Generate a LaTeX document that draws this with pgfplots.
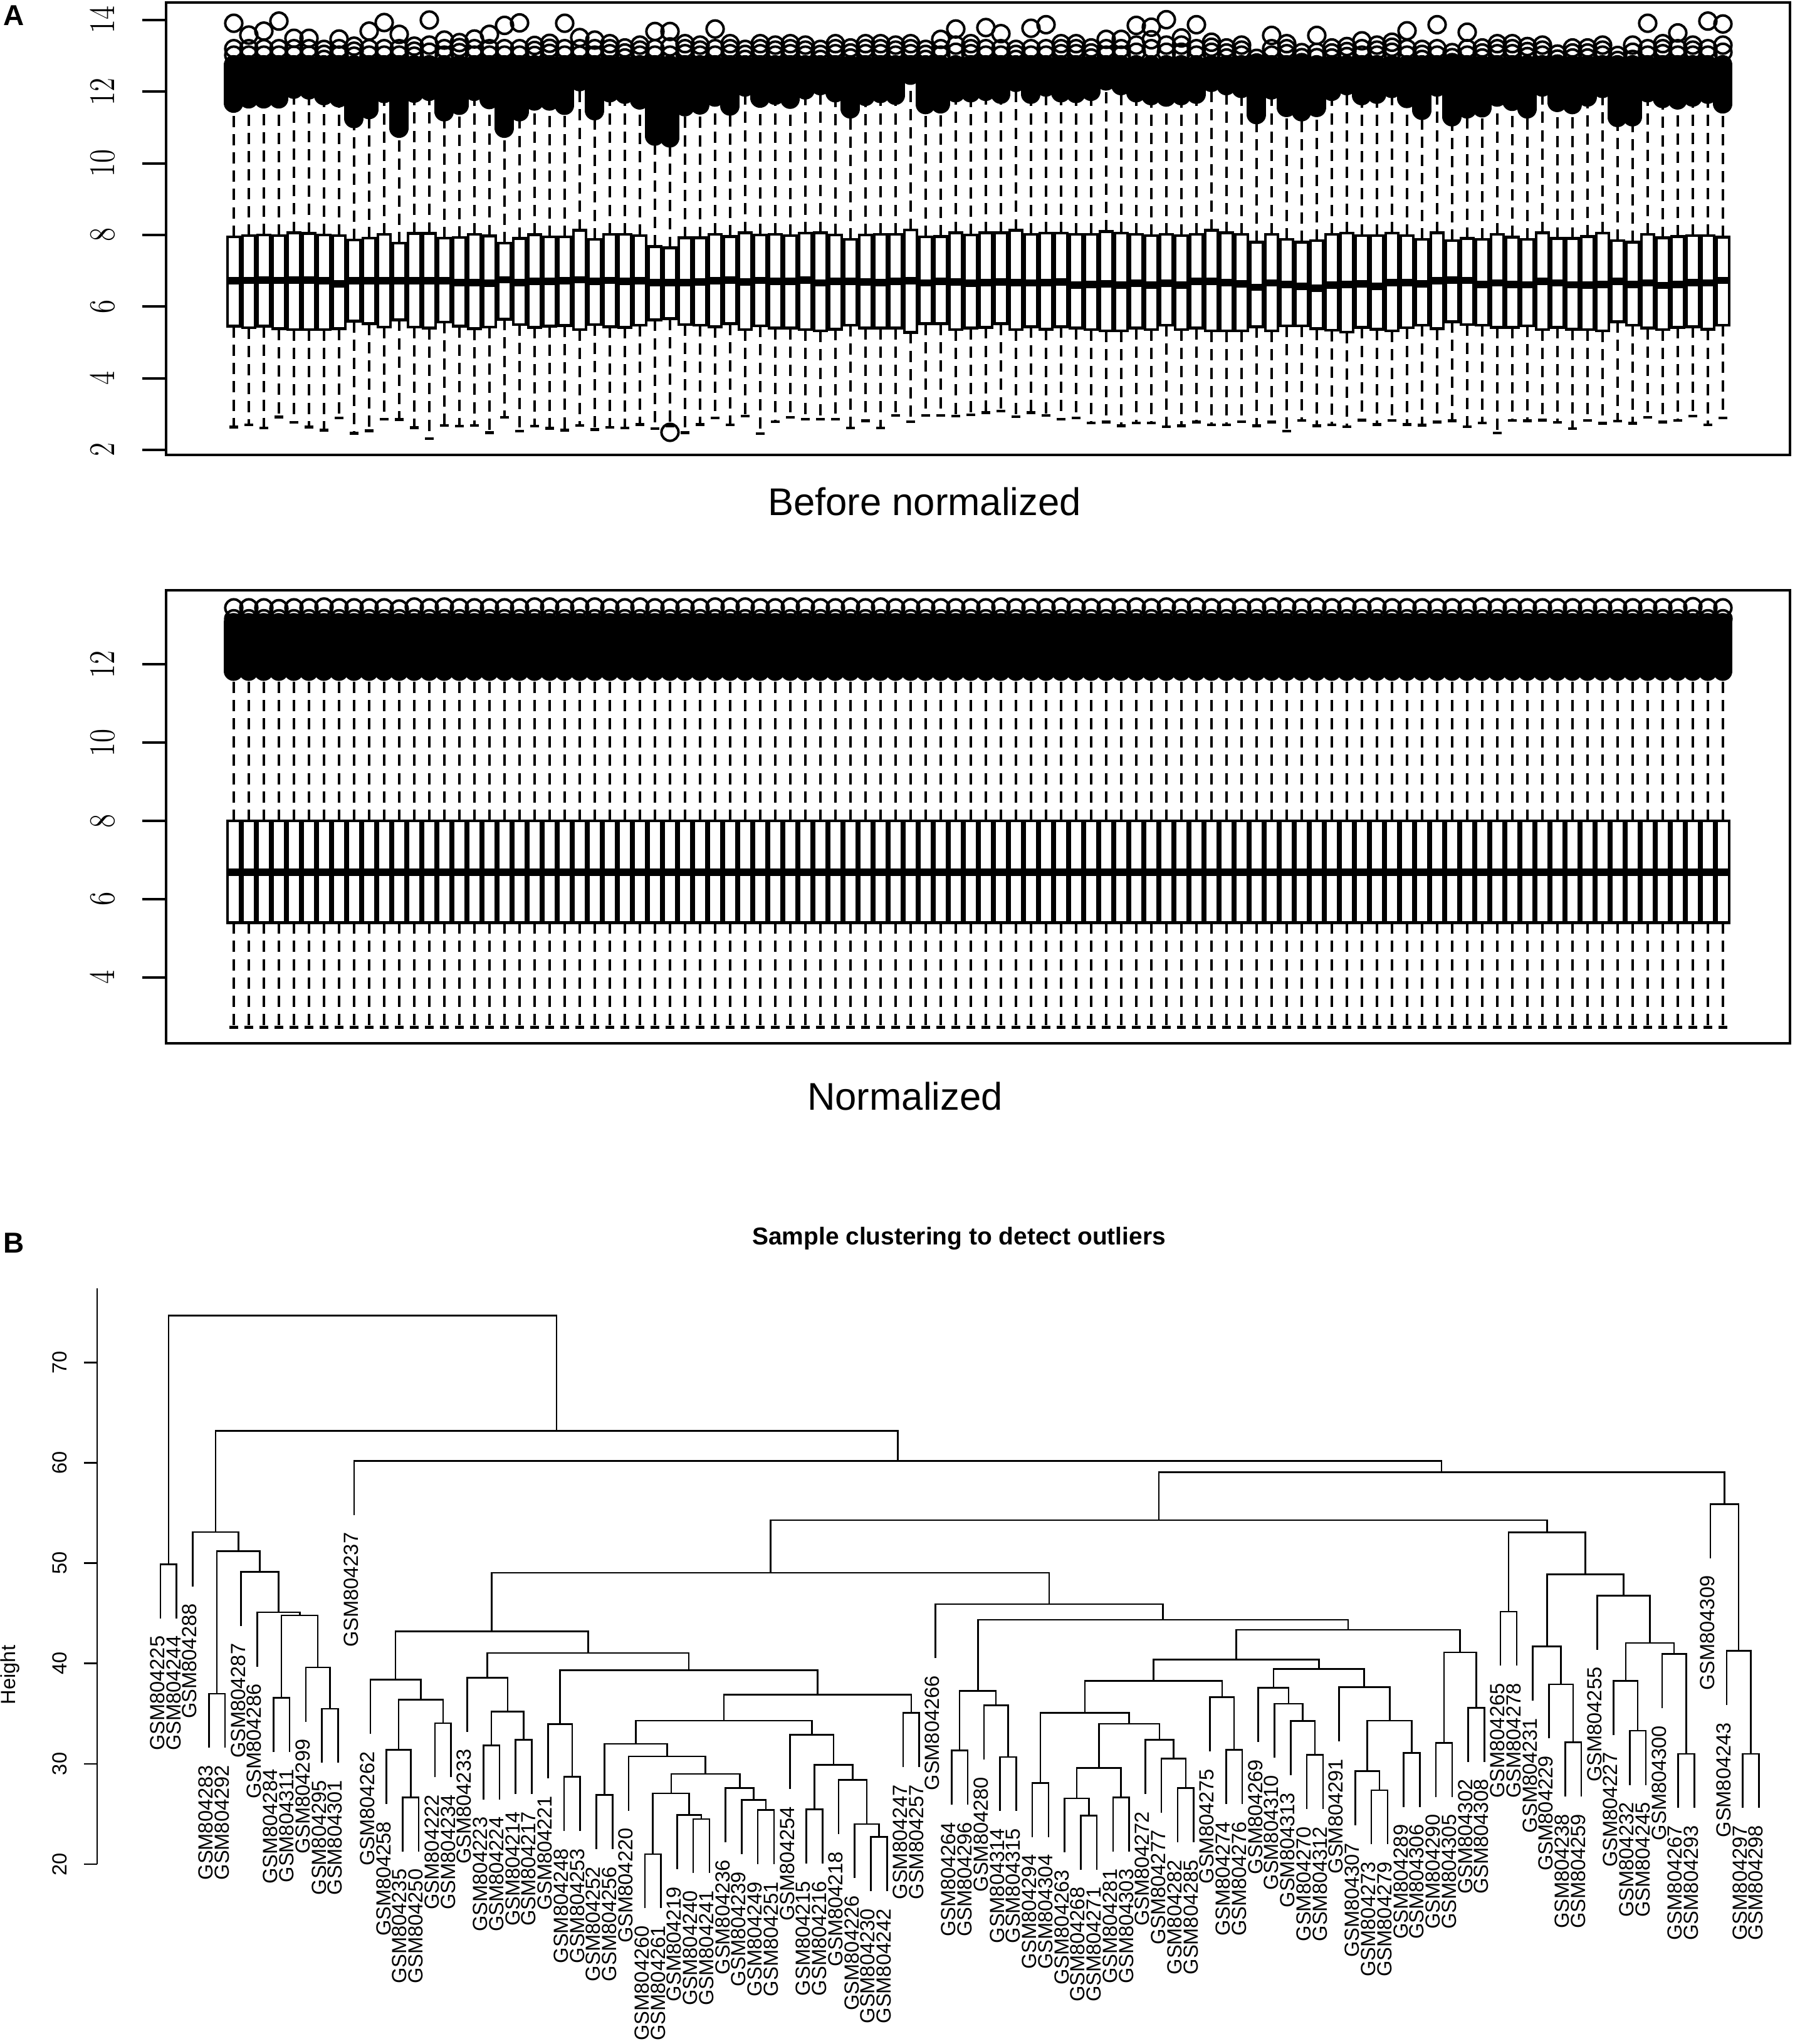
\documentclass[border=0pt]{standalone}
\usepackage{fontspec}
\usepackage{pgfplots}
\usepackage{pgfplotstable}
\pgfplotsset{compat=1.18}
\usepgfplotslibrary{statistics}
\newfontfamily\arial{Liberation Sans}

% i, lower whisker, q1, median, q3, lowest outlier, three highest outliers
\pgfplotstableread{
i lw q1 med q3 mb o1 o2 o3
1 2.64 5.45 6.72 7.95 11.68 13.91 13.2 13.02
2 2.70 5.41 6.73 7.98 11.80 13.58 13.2 13.02
3 2.61 5.45 6.74 8.00 11.80 13.69 13.2 13.02
4 2.92 5.38 6.73 7.98 11.80 13.97 13.2 13.02
5 2.77 5.36 6.74 8.06 12.07 13.49 13.2 13.02
6 2.64 5.36 6.74 8.04 12.05 13.49 13.2 13.02
7 2.55 5.36 6.72 8.00 11.89 13.18 13.04 12.9
8 2.89 5.38 6.64 7.98 11.83 13.47 13.2 13.02
9 2.46 5.59 6.72 7.86 11.25 13.27 13.13 12.99
10 2.53 5.52 6.72 7.91 11.50 13.69 13.2 13.02
11 2.86 5.43 6.72 8.02 11.95 13.93 13.2 13.02
12 2.85 5.63 6.72 7.77 10.98 13.60 13.2 13.02
13 2.62 5.43 6.72 8.04 11.96 13.27 13.13 12.99
14 2.31 5.40 6.72 8.04 12.01 14.00 13.3 13.1
15 2.68 5.57 6.72 7.91 11.44 13.44 13.2 13.02
16 2.66 5.45 6.67 7.93 11.62 13.37 13.23 13.09
17 2.68 5.38 6.67 8.02 12.01 13.47 13.2 13.02
18 2.48 5.43 6.65 7.97 11.78 13.60 13.2 13.02
19 2.91 5.65 6.75 7.77 10.98 13.85 13.2 13.02
20 2.52 5.50 6.67 7.90 11.44 13.92 13.2 13.02
21 2.66 5.42 6.70 8.01 11.74 13.29 13.15 13.01
22 2.60 5.45 6.70 7.95 11.74 13.35 13.21 13.07
23 2.55 5.47 6.72 7.95 11.62 13.91 13.2 13.02
24 2.68 5.36 6.75 8.13 12.28 13.51 13.2 13.02
25 2.57 5.50 6.71 7.88 11.47 13.44 13.2 13.02
26 2.63 5.44 6.73 8.02 11.97 13.34 13.2 13.06
27 2.61 5.42 6.71 8.02 11.93 13.22 13.08 12.94
28 2.71 5.48 6.72 7.98 11.77 13.30 13.16 13.02
29 2.59 5.63 6.67 7.68 10.76 13.68 13.2 13.02
30 2.67 5.66 6.67 7.64 10.71 13.68 13.25 13.02
31 2.48 5.50 6.67 7.92 11.58 13.34 13.2 13.06
32 2.71 5.48 6.69 7.92 11.63 13.30 13.16 13.02
33 2.89 5.44 6.72 8.02 11.85 13.75 13.2 13.02
34 2.70 5.52 6.74 7.96 11.60 13.34 13.2 13.06
35 2.94 5.36 6.69 8.06 12.13 13.18 13.04 12.9
36 2.45 5.46 6.73 8.00 11.82 13.34 13.2 13.06
37 2.79 5.40 6.70 8.02 11.90 13.30 13.16 13.02
38 2.91 5.40 6.70 7.98 11.79 13.34 13.2 13.06
39 2.86 5.36 6.74 8.05 12.05 13.30 13.16 13.02
40 2.86 5.32 6.66 8.06 12.17 13.18 13.04 12.9
41 2.86 5.37 6.71 8.00 11.97 13.34 13.2 13.06
42 2.61 5.48 6.71 7.88 11.52 13.22 13.08 12.94
43 2.81 5.40 6.69 8.00 11.87 13.34 13.2 13.06
44 2.61 5.40 6.67 8.02 11.95 13.34 13.2 13.06
45 2.96 5.40 6.71 8.02 11.90 13.30 13.16 13.02
46 2.79 5.28 6.72 8.14 12.46 13.34 13.2 13.06
47 2.96 5.52 6.66 7.95 11.64 13.18 13.04 12.9
48 2.96 5.52 6.71 7.96 11.66 13.46 13.2 13.02
49 2.94 5.36 6.69 8.06 11.97 13.75 13.3 13.1
50 2.98 5.40 6.65 8.00 11.97 13.34 13.2 13.06
51 3.04 5.42 6.67 8.06 12.01 13.79 13.2 13.02
52 3.08 5.52 6.69 8.06 11.93 13.62 13.2 13.02
53 2.93 5.36 6.67 8.13 12.26 13.18 13.04 12.9
54 3.04 5.44 6.66 8.02 11.93 13.77 13.2 13.02
55 2.96 5.37 6.67 8.05 12.13 13.87 13.2 13.02
56 2.86 5.44 6.69 8.05 11.97 13.34 13.2 13.06
57 2.89 5.40 6.60 8.02 11.95 13.34 13.2 13.06
58 2.75 5.36 6.62 8.02 12.01 13.22 13.08 12.94
59 2.78 5.32 6.64 8.10 12.30 13.46 13.2 13.02
60 2.67 5.32 6.60 8.05 12.17 13.46 13.2 13.02
61 2.75 5.40 6.65 8.02 11.97 13.85 13.3 13.1
62 2.75 5.36 6.60 7.98 11.89 13.80 13.45 13.2
63 2.65 5.48 6.65 8.02 11.85 14.01 13.3 13.1
64 2.67 5.36 6.60 7.98 11.89 13.50 13.3 13.1
65 2.78 5.40 6.71 8.02 11.93 13.87 13.2 13.02
66 2.70 5.32 6.71 8.13 12.26 13.38 13.24 13.1
67 2.70 5.32 6.67 8.06 12.17 13.22 13.08 12.94
68 2.79 5.32 6.64 8.02 12.09 13.30 13.16 13.02
69 2.67 5.44 6.54 7.80 11.36 12.93 12.8 12.7
70 2.78 5.32 6.66 8.02 12.05 13.57 13.2 13.02
71 2.52 5.46 6.62 7.88 11.56 13.34 13.2 13.06
72 2.82 5.46 6.57 7.80 11.44 13.09 12.95 12.81
73 2.67 5.38 6.51 7.84 11.56 13.57 13.1 12.95
74 2.70 5.34 6.60 8.02 12.01 13.22 13.08 12.94
75 2.65 5.29 6.62 8.05 12.17 13.26 13.12 12.98
76 2.83 5.42 6.63 7.98 11.89 13.42 13.2 13.02
77 2.71 5.37 6.57 7.98 11.93 13.30 13.16 13.02
78 2.82 5.32 6.67 8.05 12.09 13.38 13.24 13.1
79 2.71 5.41 6.67 7.98 11.81 13.70 13.2 13.02
80 2.69 5.48 6.63 7.88 11.48 13.18 13.04 12.9
81 2.78 5.38 6.72 8.06 12.13 13.87 13.2 13.02
82 2.81 5.58 6.74 7.84 11.30 13.09 12.95 12.81
83 2.65 5.50 6.73 7.90 11.52 13.66 13.2 13.02
84 2.75 5.48 6.62 7.88 11.55 13.22 13.08 12.94
85 2.47 5.42 6.66 8.02 11.85 13.34 13.2 13.06
86 2.82 5.42 6.62 7.94 11.73 13.34 13.2 13.06
87 2.81 5.46 6.61 7.88 11.52 13.26 13.12 12.98
88 2.83 5.36 6.71 8.06 12.13 13.30 13.16 13.02
89 2.77 5.42 6.66 7.90 11.70 13.05 12.91 12.77
90 2.59 5.37 6.61 7.90 11.64 13.22 13.08 12.94
91 2.82 5.36 6.60 7.96 11.85 13.22 13.08 12.94
92 2.74 5.32 6.62 8.05 12.09 13.30 13.16 13.02
93 2.80 5.58 6.71 7.84 11.28 13.01 12.87 12.73
94 2.74 5.48 6.62 7.80 11.30 13.30 13.1 12.9
95 2.91 5.40 6.66 8.02 11.97 13.91 13.2 13.02
96 2.78 5.36 6.59 7.92 11.81 13.34 13.2 13.06
97 2.82 5.42 6.62 7.96 11.77 13.64 13.2 13.02
98 2.94 5.44 6.67 7.98 11.85 13.30 13.16 13.02
99 2.70 5.37 6.66 7.98 11.93 13.97 13.2 13.02
100 2.89 5.48 6.73 7.94 11.66 13.89 13.3 13.1
}\before

% normalized samples: i, lower whisker, lowest outlier, two highest outliers
\pgfplotstableread{
i lw mb o1 o2
1 2.72 11.83 13.45 13.17
2 2.72 11.83 13.45 13.17
3 2.72 11.83 13.45 13.17
4 2.72 11.83 13.43 13.17
5 2.72 11.83 13.45 13.17
6 2.72 11.83 13.45 13.17
7 2.72 11.83 13.47 13.17
8 2.72 11.83 13.45 13.17
9 2.72 11.83 13.45 13.17
10 2.72 11.83 13.45 13.17
11 2.72 11.83 13.45 13.17
12 2.72 11.83 13.42 13.17
13 2.72 11.83 13.47 13.17
14 2.72 11.83 13.45 13.17
15 2.72 11.83 13.47 13.17
16 2.72 11.83 13.45 13.17
17 2.72 11.83 13.45 13.17
18 2.72 11.83 13.45 13.17
19 2.72 11.83 13.45 13.17
20 2.72 11.83 13.45 13.17
21 2.72 11.83 13.47 13.17
22 2.72 11.83 13.47 13.17
23 2.72 11.83 13.45 13.17
24 2.72 11.83 13.47 13.17
25 2.72 11.83 13.47 13.17
26 2.72 11.83 13.45 13.17
27 2.72 11.83 13.45 13.17
28 2.72 11.83 13.47 13.17
29 2.72 11.83 13.45 13.17
30 2.72 11.83 13.45 13.17
31 2.72 11.83 13.45 13.17
32 2.72 11.83 13.45 13.17
33 2.72 11.83 13.47 13.17
34 2.72 11.83 13.47 13.17
35 2.72 11.83 13.47 13.17
36 2.72 11.83 13.45 13.17
37 2.72 11.83 13.45 13.17
38 2.72 11.83 13.47 13.17
39 2.72 11.83 13.47 13.17
40 2.72 11.83 13.45 13.17
41 2.72 11.83 13.45 13.17
42 2.72 11.83 13.47 13.17
43 2.72 11.83 13.45 13.17
44 2.72 11.83 13.47 13.17
45 2.72 11.83 13.45 13.17
46 2.72 11.83 13.45 13.17
47 2.72 11.83 13.45 13.17
48 2.72 11.83 13.45 13.17
49 2.72 11.83 13.45 13.17
50 2.72 11.83 13.45 13.17
51 2.72 11.83 13.45 13.17
52 2.72 11.83 13.47 13.17
53 2.72 11.83 13.45 13.17
54 2.72 11.83 13.45 13.17
55 2.72 11.83 13.45 13.17
56 2.72 11.83 13.47 13.17
57 2.72 11.83 13.45 13.17
58 2.72 11.83 13.45 13.17
59 2.72 11.83 13.45 13.17
60 2.72 11.83 13.45 13.17
61 2.72 11.83 13.47 13.17
62 2.72 11.83 13.45 13.17
63 2.72 11.83 13.47 13.17
64 2.72 11.83 13.45 13.17
65 2.72 11.83 13.47 13.17
66 2.72 11.83 13.45 13.17
67 2.72 11.83 13.45 13.17
68 2.72 11.83 13.45 13.17
69 2.72 11.83 13.45 13.17
70 2.72 11.83 13.47 13.17
71 2.72 11.83 13.47 13.17
72 2.72 11.83 13.45 13.17
73 2.72 11.83 13.47 13.17
74 2.72 11.83 13.45 13.17
75 2.72 11.83 13.47 13.17
76 2.72 11.83 13.45 13.17
77 2.72 11.83 13.47 13.17
78 2.72 11.83 13.45 13.17
79 2.72 11.83 13.45 13.17
80 2.72 11.83 13.45 13.17
81 2.72 11.83 13.45 13.17
82 2.72 11.83 13.45 13.17
83 2.72 11.83 13.45 13.17
84 2.72 11.83 13.47 13.17
85 2.72 11.83 13.45 13.17
86 2.72 11.83 13.45 13.17
87 2.72 11.83 13.45 13.17
88 2.72 11.83 13.45 13.17
89 2.72 11.83 13.45 13.17
90 2.72 11.83 13.45 13.17
91 2.72 11.83 13.45 13.17
92 2.72 11.83 13.45 13.17
93 2.72 11.83 13.45 13.17
94 2.72 11.83 13.45 13.17
95 2.72 11.83 13.45 13.17
96 2.72 11.83 13.45 13.17
97 2.72 11.83 13.45 13.17
98 2.72 11.83 13.48 13.17
99 2.72 11.83 13.45 13.17
100 2.72 11.83 13.45 13.17
}\normed

% dendrogram leaves: position, end of the branch, sample
\pgfplotstableread{
x y lab
1 44.5 GSM804225
2 44.5 GSM804244
3 47.7 GSM804288
4 31.6 GSM804283
5 31.6 GSM804292
6 43.75 GSM804287
7 39.7 GSM804286
8 31.2 GSM804284
9 31.2 GSM804311
10 34.2 GSM804299
11 30.1 GSM804295
12 30.1 GSM804301
13 54.8 GSM804237
14 33 GSM804262
15 26 GSM804258
16 21.26 GSM804235
17 21.26 GSM804250
18 28.66 GSM804222
19 28.66 GSM804234
20 33.2 GSM804233
21 26.45 GSM804223
22 26.45 GSM804224
23 27 GSM804214
24 27 GSM804217
25 28.56 GSM804221
26 23.3 GSM804248
27 23.3 GSM804253
28 21.5 GSM804252
29 21.5 GSM804256
30 25.34 GSM804220
31 15.6 GSM804260
32 15.6 GSM804261
33 19.5 GSM804219
34 19.1 GSM804240
35 19.1 GSM804241
36 22.17 GSM804236
37 21 GSM804239
38 20 GSM804249
39 20 GSM804251
40 27.5 GSM804254
41 20.06 GSM804215
42 20.06 GSM804216
43 23 GSM804218
44 18.6 GSM804226
45 17.3 GSM804230
46 17.3 GSM804242
47 29.67 GSM804247
48 29.67 GSM804257
49 40.53 GSM804266
50 25.94 GSM804264
51 25.94 GSM804296
52 30.42 GSM804280
53 25.29 GSM804314
54 25.29 GSM804315
55 22.7 GSM804294
56 22.7 GSM804304
57 21.16 GSM804263
58 19.45 GSM804268
59 19.45 GSM804271
60 21.26 GSM804281
61 21.26 GSM804303
62 27 GSM804272
63 25.14 GSM804277
64 22.17 GSM804282
65 22.17 GSM804285
66 31.23 GSM804275
67 26 GSM804274
68 26 GSM804276
69 32.18 GSM804269
70 30.6 GSM804310
71 28.86 GSM804313
72 25.49 GSM804270
73 25.49 GSM804312
74 32.23 GSM804291
75 23.88 GSM804307
76 21.97 GSM804273
77 21.97 GSM804279
78 25.7 GSM804289
79 25.7 GSM804306
80 26.7 GSM804290
81 26.7 GSM804305
82 30.2 GSM804302
83 30.2 GSM804308
84 39.77 GSM804265
85 39.77 GSM804278
86 36.3 GSM804231
87 32.53 GSM804229
88 26.75 GSM804238
89 26.75 GSM804259
90 41.38 GSM804255
91 32.88 GSM804227
92 27.9 GSM804232
93 27.9 GSM804245
94 35.55 GSM804300
95 25.6 GSM804267
96 25.6 GSM804293
97 50.5 GSM804309
98 35.85 GSM804243
99 25.6 GSM804297
100 25.6 GSM804298
}\leaves

\pgfplotsset{
  rpanel/.style={
    scale only axis, width=647.75pt, anchor=south west,
    xmin=-3.5, xmax=104.46, xtick=\empty,
    ytick pos=left, tick align=outside, major tick length=9.5pt,
    axis line style={line width=1pt},
    tick style={line width=1pt,black},
    yticklabel shift=11pt,
    yticklabel style={rotate=90,xscale=.78,anchor=south,inner sep=0pt,font=\fontsize{15.5}{16}\selectfont},
  },
  rbox/.style={
    black, forget plot,
    boxplot/draw direction=y,
    boxplot/box extend=.83, boxplot/whisker extend=0,
    boxplot/every box/.style={line width=1.15pt},
    boxplot/every median/.style={line width=2.9pt},
    boxplot/every whisker/.style={line width=1.1pt,dash pattern=on 4.5pt off 2.8pt},
  },
  rcap/.style={only marks,mark=-,black,mark size=1.7pt,mark options={solid,line width=1.1pt}},
  rmass/.style={
    only marks, mark=none,
    error bars/.cd, y dir=plus, y explicit, error mark=none,
    error bar style={solid,black,line width=7.75pt,line cap=round},
  },
  rout/.style={only marks,mark=o,black,mark size=3.4pt,mark options={solid,line width=1pt}},
}

\begin{document}
\begin{tikzpicture}
\path[use as bounding box] (0,0) rectangle (715.75pt,815.5pt);

\begin{axis}[rpanel, at={(66.25pt,634pt)}, height=180.5pt,
    ymin=1.86, ymax=14.49, ytick={2,4,...,14}]
\pgfplotsinvokeforeach{0,...,99}{
  \pgfplotstablegetelem{#1}{i}\of\before\let\vi\pgfplotsretval
  \pgfplotstablegetelem{#1}{lw}\of\before\let\vlw\pgfplotsretval
  \pgfplotstablegetelem{#1}{q1}\of\before\let\vqa\pgfplotsretval
  \pgfplotstablegetelem{#1}{med}\of\before\let\vmed\pgfplotsretval
  \pgfplotstablegetelem{#1}{q3}\of\before\let\vqc\pgfplotsretval
  \pgfplotstablegetelem{#1}{mb}\of\before\let\vmb\pgfplotsretval
  \edef\tmp{\noexpand\addplot[rbox,boxplot prepared={draw position=\vi,lower whisker=\vlw,lower quartile=\vqa,median=\vmed,upper quartile=\vqc,upper whisker=\vmb}] coordinates {};}\tmp
}
\addplot[rcap] table[x=i,y=lw] {\before};
\addplot[rmass] table[x=i,y=mb,y error expr={12.75-\thisrow{mb}}] {\before};
\addplot[rout] table[x=i,y=o1] {\before};
\addplot[rout] table[x=i,y=o2] {\before};
\addplot[rout] table[x=i,y=o3] {\before};
\addplot[rout] coordinates {(30,2.49)};
\end{axis}

\begin{axis}[rpanel, at={(66.25pt,399.25pt)}, height=180.75pt,
    ymin=2.31, ymax=13.9, ytick={4,6,...,12}]
\pgfplotsinvokeforeach{1,...,100}{
  \addplot[rbox,boxplot prepared={draw position=#1,lower whisker=2.72,lower quartile=5.4,median=6.69,upper quartile=8.0,upper whisker=11.83}] coordinates {};
}
\addplot[rcap] table[x=i,y=lw] {\normed};
\addplot[rmass] table[x=i,y=mb,y error expr={13.07-\thisrow{mb}}] {\normed};
\addplot[rout] table[x=i,y=o1] {\normed};
\addplot[rout] table[x=i,y=o2] {\normed};
\end{axis}

\begin{axis}[scale only axis, at={(38.75pt,71.75pt)}, anchor=south west,
    width=677pt, height=229.75pt, clip=false,
    xmin=-2.92, xmax=102.2, ymin=20, ymax=77.4,
    axis x line=none, axis y line=left,
    axis line style={-,line width=.65pt},
    ytick={20,30,...,70}, tick align=outside, major tick length=5.25pt,
    tick style={line width=.65pt,black},
    yticklabel shift=6.5pt,
    /pgf/number format/assume math mode=true,
    yticklabel style={rotate=90,anchor=south,inner sep=0pt,font=\arial\fontsize{8.15}{9.8}\selectfont},
    unbounded coords=jump]
\addplot[black,line width=.65pt,line join=miter] coordinates {
(1,44.5)(1,49.9)(2,49.9)(2,44.5)(nan,nan)
(4,31.6)(4,37)(5,37)(5,31.6)(nan,nan)
(8,31.2)(8,36.6)(9,36.6)(9,31.2)(nan,nan)
(11,30.1)(11,35.5)(12,35.5)(12,30.1)(nan,nan)
(10,34.2)(10,39.6)(11.5,39.6)(11.5,35.5)(nan,nan)
(8.5,36.6)(8.5,44.8)(10.75,44.8)(10.75,39.6)(nan,nan)
(7,39.7)(7,45.1)(9.63,45.1)(9.63,44.8)(nan,nan)
(6,43.75)(6,49.15)(8.31,49.15)(8.31,45.1)(nan,nan)
(4.5,37)(4.5,51.2)(7.16,51.2)(7.16,49.15)(nan,nan)
(3,47.7)(3,53.1)(5.83,53.1)(5.83,51.2)(nan,nan)
(1.5,49.9)(1.5,74.7)(25.54,74.7)(25.54,63.2)(nan,nan)
(4.41,53.1)(4.41,63.2)(46.68,63.2)(46.68,60.2)(nan,nan)
(13,54.8)(13,60.2)(80.35,60.2)(80.35,59.05)(nan,nan)
(62.83,54.3)(62.83,59.05)(97.88,59.05)(97.88,55.9)(nan,nan)
(99,25.6)(99,31)(100,31)(100,25.6)(nan,nan)
(98,35.85)(98,41.25)(99.5,41.25)(99.5,31)(nan,nan)
(97,50.5)(97,55.9)(98.75,55.9)(98.75,41.25)(nan,nan)
(38.78,49.05)(38.78,54.3)(86.88,54.3)(86.88,53.07)(nan,nan)
(21.52,43.2)(21.52,49.05)(56.05,49.05)(56.05,45.93)(nan,nan)
(15.56,38.4)(15.56,43.2)(27.49,43.2)(27.49,41.05)(nan,nan)
(14,33)(14,38.4)(17.13,38.4)(17.13,36.4)(nan,nan)
(15.75,31.4)(15.75,36.4)(18.5,36.4)(18.5,34.06)(nan,nan)
(15,26)(15,31.4)(16.5,31.4)(16.5,26.66)(nan,nan)
(16,21.26)(16,26.66)(17,26.66)(17,21.26)(nan,nan)
(18,28.66)(18,34.06)(19,34.06)(19,28.66)(nan,nan)
(21.25,38.6)(21.25,41.05)(33.72,41.05)(33.72,39.34)(nan,nan)
(20,33.2)(20,38.6)(22.5,38.6)(22.5,35.2)(nan,nan)
(21.5,31.85)(21.5,35.2)(23.5,35.2)(23.5,32.4)(nan,nan)
(21,26.45)(21,31.85)(22,31.85)(22,26.45)(nan,nan)
(23,27)(23,32.4)(24,32.4)(24,27)(nan,nan)
(25.75,33.96)(25.75,39.34)(41.7,39.34)(41.7,36.9)(nan,nan)
(25,28.56)(25,33.96)(26.5,33.96)(26.5,28.7)(nan,nan)
(26,23.3)(26,28.7)(27,28.7)(27,23.3)(nan,nan)
(35.89,34.3)(35.89,36.9)(47.5,36.9)(47.5,35.07)(nan,nan)
(47,29.67)(47,35.07)(48,35.07)(48,29.67)(nan,nan)
(30.44,32)(30.44,34.3)(41.34,34.3)(41.34,32.9)(nan,nan)
(28.5,26.9)(28.5,32)(32.38,32)(32.38,30.74)(nan,nan)
(28,21.5)(28,26.9)(29,26.9)(29,21.5)(nan,nan)
(30,25.34)(30,30.74)(34.75,30.74)(34.75,29)(nan,nan)
(32.63,27.07)(32.63,29)(36.88,29)(36.88,27.57)(nan,nan)
(31.5,21)(31.5,27.07)(33.75,27.07)(33.75,24.9)(nan,nan)
(31,15.6)(31,21)(32,21)(32,15.6)(nan,nan)
(33,19.5)(33,24.9)(34.5,24.9)(34.5,24.5)(nan,nan)
(34,19.1)(34,24.5)(35,24.5)(35,19.1)(nan,nan)
(36,22.17)(36,27.57)(37.75,27.57)(37.75,26.4)(nan,nan)
(37,21)(37,26.4)(38.5,26.4)(38.5,25.4)(nan,nan)
(38,20)(38,25.4)(39,25.4)(39,20)(nan,nan)
(40,27.5)(40,32.9)(42.69,32.9)(42.69,29.9)(nan,nan)
(41.5,25.46)(41.5,29.9)(43.88,29.9)(43.88,28.4)(nan,nan)
(41,20.06)(41,25.46)(42,25.46)(42,20.06)(nan,nan)
(43,23)(43,28.4)(44.75,28.4)(44.75,24)(nan,nan)
(44,18.6)(44,24)(45.5,24)(45.5,22.7)(nan,nan)
(45,17.3)(45,22.7)(46,22.7)(46,17.3)(nan,nan)
(49,40.53)(49,45.93)(63.09,45.93)(63.09,44.37)(nan,nan)
(51.63,37.28)(51.63,44.37)(74.56,44.37)(74.56,43.37)(nan,nan)
(50.5,31.34)(50.5,37.28)(52.75,37.28)(52.75,35.82)(nan,nan)
(50,25.94)(50,31.34)(51,31.34)(51,25.94)(nan,nan)
(52,30.42)(52,35.82)(53.5,35.82)(53.5,30.69)(nan,nan)
(53,25.29)(53,30.69)(54,30.69)(54,25.29)(nan,nan)
(67.63,40.4)(67.63,43.37)(81.5,43.37)(81.5,41.1)(nan,nan)
(62.5,38.28)(62.5,40.4)(72.75,40.4)(72.75,39.44)(nan,nan)
(58.25,35.1)(58.25,38.28)(66.75,38.28)(66.75,36.63)(nan,nan)
(55.5,28.1)(55.5,35.1)(61,35.1)(61,34)(nan,nan)
(55,22.7)(55,28.1)(56,28.1)(56,22.7)(nan,nan)
(59.13,29.6)(59.13,34)(62.88,34)(62.88,32.4)(nan,nan)
(57.75,26.56)(57.75,29.6)(60.5,29.6)(60.5,26.66)(nan,nan)
(57,21.16)(57,26.56)(58.5,26.56)(58.5,24.85)(nan,nan)
(58,19.45)(58,24.85)(59,24.85)(59,19.45)(nan,nan)
(60,21.26)(60,26.66)(61,26.66)(61,21.26)(nan,nan)
(62,27)(62,32.4)(63.75,32.4)(63.75,30.54)(nan,nan)
(63,25.14)(63,30.54)(64.5,30.54)(64.5,27.57)(nan,nan)
(64,22.17)(64,27.57)(65,27.57)(65,22.17)(nan,nan)
(66,31.23)(66,36.63)(67.5,36.63)(67.5,31.4)(nan,nan)
(67,26)(67,31.4)(68,31.4)(68,26)(nan,nan)
(69.94,37.58)(69.94,39.44)(75.56,39.44)(75.56,37.63)(nan,nan)
(69,32.18)(69,37.58)(70.88,37.58)(70.88,36)(nan,nan)
(70,30.6)(70,36)(71.75,36)(71.75,34.26)(nan,nan)
(71,28.86)(71,34.26)(72.5,34.26)(72.5,30.89)(nan,nan)
(72,25.49)(72,30.89)(73,30.89)(73,25.49)(nan,nan)
(74,32.23)(74,37.63)(77.13,37.63)(77.13,34.3)(nan,nan)
(75.75,29.28)(75.75,34.3)(78.5,34.3)(78.5,31.1)(nan,nan)
(75,23.88)(75,29.28)(76.5,29.28)(76.5,27.37)(nan,nan)
(76,21.97)(76,27.37)(77,27.37)(77,21.97)(nan,nan)
(78,25.7)(78,31.1)(79,31.1)(79,25.7)(nan,nan)
(80.5,32.1)(80.5,41.1)(82.5,41.1)(82.5,35.6)(nan,nan)
(80,26.7)(80,32.1)(81,32.1)(81,26.7)(nan,nan)
(82,30.2)(82,35.6)(83,35.6)(83,30.2)(nan,nan)
(84.5,45.17)(84.5,53.07)(89.25,53.07)(89.25,48.9)(nan,nan)
(84,39.77)(84,45.17)(85,45.17)(85,39.77)(nan,nan)
(86.88,41.7)(86.88,48.9)(91.63,48.9)(91.63,46.78)(nan,nan)
(86,36.3)(86,41.7)(87.75,41.7)(87.75,37.93)(nan,nan)
(87,32.53)(87,37.93)(88.5,37.93)(88.5,32.15)(nan,nan)
(88,26.75)(88,32.15)(89,32.15)(89,26.75)(nan,nan)
(90,41.38)(90,46.78)(93.25,46.78)(93.25,42.06)(nan,nan)
(91.75,38.28)(91.75,42.06)(94.75,42.06)(94.75,40.95)(nan,nan)
(91,32.88)(91,38.28)(92.5,38.28)(92.5,33.3)(nan,nan)
(92,27.9)(92,33.3)(93,33.3)(93,27.9)(nan,nan)
(94,35.55)(94,40.95)(95.5,40.95)(95.5,31)(nan,nan)
(95,25.6)(95,31)(96,31)(96,25.6)
};
\addplot[only marks,mark=none,point meta=explicit symbolic,
    nodes near coords,
    nodes near coords style={xshift=-1.2pt,rotate=90,anchor=east,inner sep=0pt,outer xsep=7pt,font=\arial\fontsize{8.15}{9.8}\selectfont}]
  table[x=x,y=y,meta=lab] {\leaves};
\end{axis}

\node[anchor=base west,inner sep=0pt,font=\arial\bfseries\fontsize{11.5}{13}\selectfont] at (1.25pt,805.25pt) {A};
\node[anchor=base west,inner sep=0pt,font=\arial\bfseries\fontsize{11.5}{13}\selectfont] at (1.25pt,315.5pt) {B};
\node[font=\arial\fontsize{15.4}{19}\selectfont] at (368.75pt,615.25pt) {Before normalized};
\node[font=\arial\fontsize{15.4}{19}\selectfont] at (361pt,378pt) {Normalized};
\node[font=\arial\bfseries\fontsize{9.73}{12}\selectfont] at (382.5pt,321.25pt) {Sample clustering to detect outliers};
\node[rotate=90,font=\arial\fontsize{8.15}{9.8}\selectfont] at (4pt,147.25pt) {Height};
\end{tikzpicture}
\end{document}
